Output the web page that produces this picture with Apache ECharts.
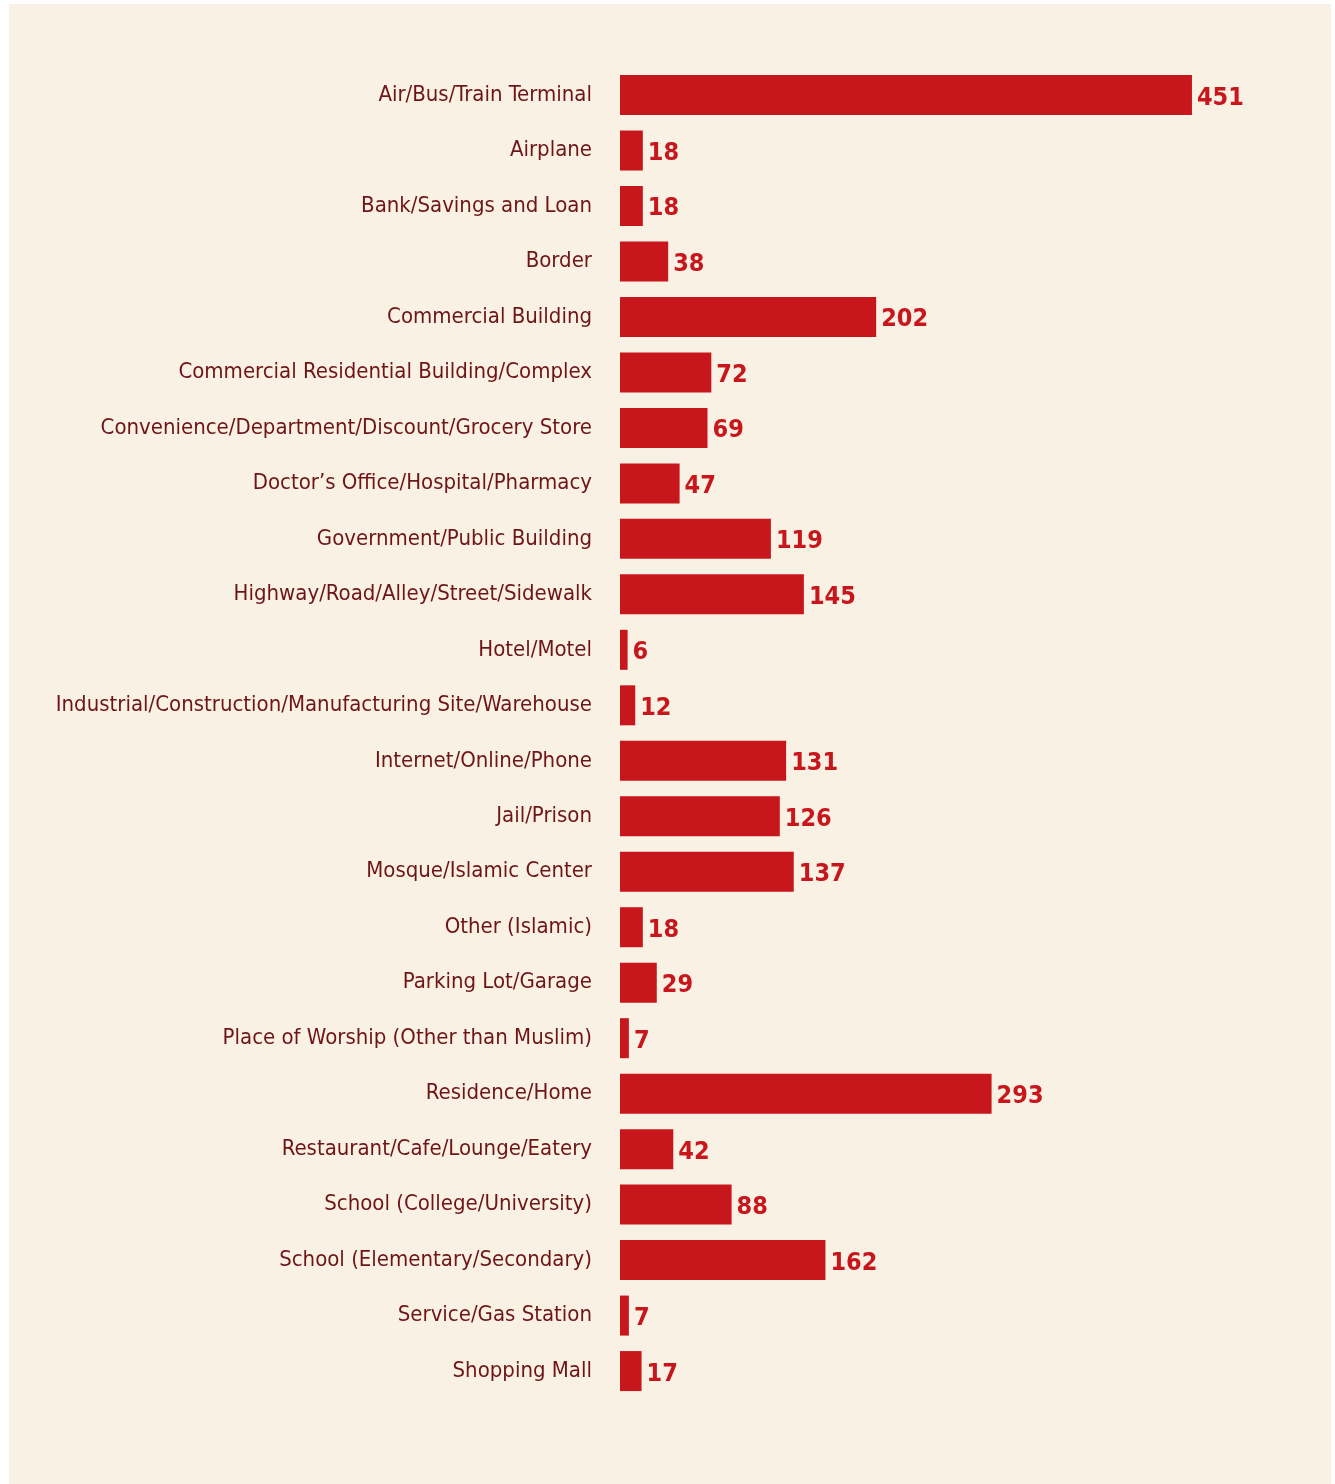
<!DOCTYPE html>
<html>
<head>
<meta charset="utf-8">
<script src="https://cdn.jsdelivr.net/npm/echarts@6/dist/echarts.min.js"></script>
<style>
  html, body { margin: 0; padding: 0; background: #ffffff; }
  #chart { position: absolute; left: 9px; top: 4px; width: 1322px; height: 1480px; }
</style>
</head>
<body>
<div id="chart"></div>
<script>
const categories = [
  "Air/Bus/Train Terminal",
  "Airplane",
  "Bank/Savings and Loan",
  "Border",
  "Commercial Building",
  "Commercial Residential Building/Complex",
  "Convenience/Department/Discount/Grocery Store",
  "Doctor\u2019s Office/Hospital/Pharmacy",
  "Government/Public Building",
  "Highway/Road/Alley/Street/Sidewalk",
  "Hotel/Motel",
  "Industrial/Construction/Manufacturing Site/Warehouse",
  "Internet/Online/Phone",
  "Jail/Prison",
  "Mosque/Islamic Center",
  "Other (Islamic)",
  "Parking Lot/Garage",
  "Place of Worship (Other than Muslim)",
  "Residence/Home",
  "Restaurant/Cafe/Lounge/Eatery",
  "School (College/University)",
  "School (Elementary/Secondary)",
  "Service/Gas Station",
  "Shopping Mall"
];
const values = [451, 18, 18, 38, 202, 72, 69, 47, 119, 145, 6, 12, 131, 126, 137, 18, 29, 7, 293, 42, 88, 162, 7, 17];

const FONT = '"Liberation Sans Narrow", "DejaVu Sans Condensed", "Arial Narrow", sans-serif';
const chart = echarts.init(document.getElementById('chart'), null, { renderer: 'canvas' });
chart.setOption({
  backgroundColor: '#f9f1e3',
  animation: false,
  grid: { left: 611, top: 63.3, height: 1331.5, width: 634.1, containLabel: false, outerBoundsMode: 'none' },
  xAxis: {
    type: 'value', min: 0, max: 500, show: false,
    splitLine: { show: false }
  },
  yAxis: {
    type: 'category',
    data: categories,
    inverse: true,
    axisLine: { show: false },
    axisTick: { show: false },
    axisLabel: {
      margin: 28,
      color: '#6e1518',
      fontFamily: FONT,
      fontSize: 22,
      fontWeight: 'normal'
    }
  },
  series: [{
    type: 'bar',
    data: values,
    barWidth: 40,
    itemStyle: { color: '#c8161d' },
    label: {
      show: true,
      position: 'right',
      distance: 5,
      offset: [0, 3],
      color: '#c8161d',
      fontFamily: FONT,
      fontSize: 25,
      fontWeight: 'bold'
    }
  }]
});
</script>
</body>
</html>
